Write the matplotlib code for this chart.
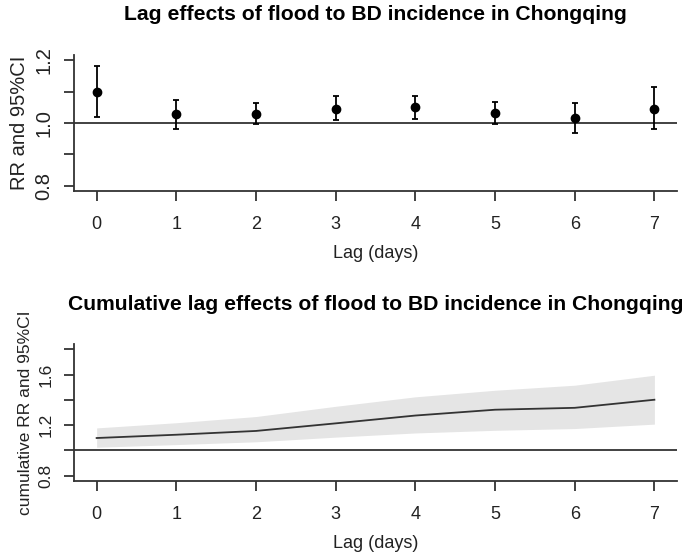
import matplotlib
matplotlib.use("Agg")
import matplotlib.pyplot as plt
import numpy as np

# ---- values ----
lags = [0, 1, 2, 3, 4, 5, 6, 7]

# single-lag RR with 95% CI
rr = [1.098, 1.029, 1.029, 1.046, 1.050, 1.033, 1.015, 1.046]
rr_lo = [1.020, 0.982, 0.997, 1.011, 1.014, 0.997, 0.969, 0.982]
rr_hi = [1.180, 1.073, 1.065, 1.085, 1.085, 1.068, 1.065, 1.113]

# cumulative RR with 95% CI
cum_rr = [1.098, 1.124, 1.154, 1.214, 1.276, 1.322, 1.337, 1.401]
cum_lo = [1.025, 1.046, 1.068, 1.105, 1.138, 1.159, 1.173, 1.208]
cum_hi = [1.178, 1.219, 1.268, 1.349, 1.424, 1.476, 1.516, 1.595]

top_title = "Lag effects of flood to BD incidence in Chongqing"
bot_title = "Cumulative lag effects of flood to BD incidence in Chongqing"

plt.rcParams.update({"font.family": ["Liberation Sans", "DejaVu Sans"]})
INK = "#333333"

fig = plt.figure(figsize=(6.85, 5.56), dpi=100)
ax1 = fig.add_axes([0.1085, 0.6565, 0.8794, 0.2446])
ax2 = fig.add_axes([0.1085, 0.1354, 0.8794, 0.2454])


def r_style(ax, yticks, ylabels, ylab, ysize):
    for s in ("top", "right"):
        ax.spines[s].set_visible(False)
    for s in ("left", "bottom"):
        ax.spines[s].set_color(INK)
        ax.spines[s].set_linewidth(1.3)
    ax.set_xlim(-0.28, 7.28)
    ax.set_xticks(lags)
    ax.set_yticks(yticks)
    ax.set_yticklabels(ylabels, rotation=90, va="center")
    ax.tick_params(axis="both", direction="out", length=7, width=1.3, color=INK,
                   labelcolor="#222222")
    ax.tick_params(axis="x", pad=11, labelsize=13)
    ax.tick_params(axis="y", pad=8, labelsize=ysize)
    ax.set_xlabel("Lag (days)", fontsize=13, color="#222222", labelpad=9)
    ax.set_ylabel(ylab, fontsize=ysize, color="#222222")
    ax.axhline(1.0, color=INK, lw=1.3, zorder=1)


# top panel: per-lag estimates
rr_a = np.array(rr)
ax1.errorbar(lags, rr, yerr=[rr_a - np.array(rr_lo), np.array(rr_hi) - rr_a],
             fmt="o", color="black", ms=6, capsize=2.5, elinewidth=1.3,
             capthick=1.3, zorder=3)
ax1.set_ylim(0.784, 1.216)
r_style(ax1, [0.8, 0.9, 1.0, 1.1, 1.2], ["0.8", "", "1.0", "", "1.2"],
        "RR and 95%CI", 14.5)
ax1.set_title(top_title, fontsize=15.2, fontweight="bold", pad=25)

# bottom panel: cumulative estimates
ax2.fill_between(lags, cum_lo, cum_hi, color="#e5e5e5", lw=0, zorder=0)
ax2.plot(lags, cum_rr, color=INK, lw=1.3, zorder=2)
ax2.set_ylim(0.76, 1.84)
r_style(ax2, [0.8, 1.0, 1.2, 1.4, 1.6, 1.8], ["0.8", "", "1.2", "", "1.6", ""],
        "cumulative RR and 95%CI", 12.5)
ax2.set_title(bot_title, fontsize=15.2, fontweight="bold", pad=25)

fig.savefig("out.png", dpi=100)
